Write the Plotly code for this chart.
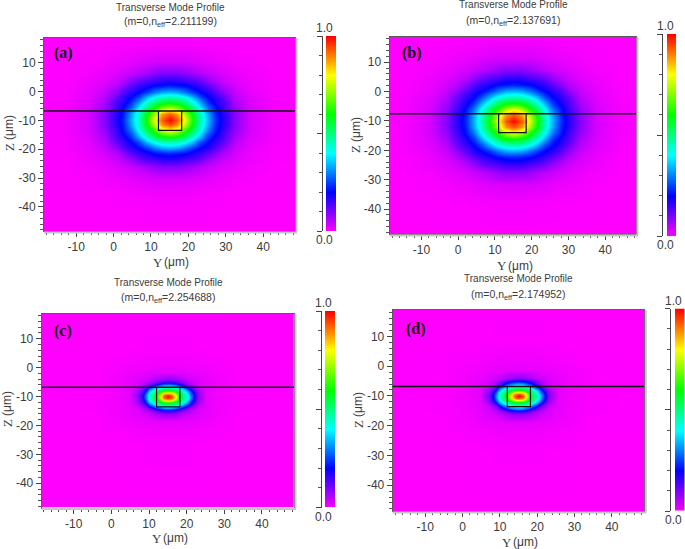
import numpy as np
import plotly.graph_objects as go

W, H = 685, 549

TITLE = "Transverse Mode Profile"
NEFF = ["2.211199", "2.137691", "2.254688", "2.174952"]
LABELS = ["(a)", "(b)", "(c)", "(d)"]
X_TICKS = [-10, 0, 10, 20, 30, 40]
Z_TICKS = [-40, -30, -20, -10, 0, 10]

# Intensity, as a quadrant around the mode centre (percent).
WIDE_MODE = [
    [100, 93, 78, 60, 46, 34, 23, 17, 9, 3, 0.7, 0],
    [93, 88, 73, 58, 45, 33, 22, 17, 9, 3, 0.7, 0],
    [78, 73, 62, 52, 41, 29, 21, 15, 8, 3, 0.7, 0],
    [60, 58, 52, 43, 34, 24, 18, 14, 6.5, 2.6, 0.6, 0],
    [46, 45, 41, 34, 26, 20, 16, 12, 5.3, 2.3, 0.5, 0],
    [34, 33, 29, 24, 20, 17, 13, 8.5, 4.2, 1.8, 0.4, 0],
    [23, 22, 21, 18, 16, 13, 9, 6, 3.2, 1.4, 0.3, 0],
    [17, 17, 15, 14, 12, 8.5, 6, 4, 2.5, 1.2, 0.3, 0],
    [9, 9, 8, 6.5, 5.3, 4.2, 3.2, 2.5, 1.5, 0.7, 0.2, 0],
    [3, 3, 3, 2.6, 2.3, 1.8, 1.4, 1.2, 0.7, 0.4, 0.1, 0],
    [0.7, 0.7, 0.7, 0.6, 0.5, 0.4, 0.3, 0.3, 0.2, 0.1, 0, 0],
    [0, 0, 0, 0, 0, 0, 0, 0, 0, 0, 0, 0],
]
TIGHT_MODE = [
    [100, 94, 80, 62, 51, 43, 30, 17, 9, 2, 1, 0.3, 0],
    [94, 90, 77, 60, 50, 42, 29, 16, 9, 2, 1, 0.3, 0],
    [80, 77, 66, 55, 47, 38, 26, 15, 8, 2, 1, 0.3, 0],
    [62, 60, 55, 49, 43, 33, 21, 12, 7, 2, 1, 0.3, 0],
    [51, 50, 47, 43, 34, 26, 15, 9, 5.5, 2, 1, 0.3, 0],
    [43, 42, 38, 33, 26, 16, 10, 7, 4, 2, 1, 0.3, 0],
    [30, 29, 26, 21, 15, 10, 7, 5, 3, 1.8, 1, 0.3, 0],
    [17, 16, 15, 12, 9, 7, 5, 3.5, 2.8, 1.6, 0.9, 0.2, 0],
    [9, 9, 8, 7, 5.5, 4.5, 3.5, 3, 2.5, 1.8, 0.9, 0.2, 0],
    [2, 2, 2, 2, 2, 1.8, 1.7, 1.5, 1.5, 1.2, 0.7, 0.2, 0],
    [1, 1, 1, 1, 1, 0.9, 0.9, 0.8, 0.8, 0.6, 0.4, 0.1, 0],
    [0.3, 0.3, 0.3, 0.3, 0.3, 0.3, 0.3, 0.2, 0.2, 0.2, 0.1, 0, 0],
    [0, 0, 0, 0, 0, 0, 0, 0, 0, 0, 0, 0, 0],
]
# Distances from the centre (um) of the quadrant's columns (Y) and rows (Z)
A_DY = [0, 2, 4.1, 6.2, 8.2, 10.3, 12.4, 14.4, 17.5, 21.6, 27.8, 40]
A_DZ = [0, 1.9, 3.9, 5.8, 7.8, 9.7, 11.6, 13.6, 16.5, 20.4, 26.2, 40]
B_DY = [0, 2.1, 4.3, 6.5, 8.6, 10.8, 13, 15.1, 18.4, 22.7, 29, 40]
B_DZ = [0, 2, 4, 6, 8.1, 10.1, 12.2, 14.2, 17.3, 21.4, 27.5, 40]
C_DY = [0, 1, 2, 3, 4, 5, 6, 7, 8, 10, 13, 18, 40]
C_DZ = [0, 0.65, 1.3, 2, 2.7, 3.4, 4.1, 5, 6, 8.4, 11, 16, 40]
D_DY = [0, 1, 2, 3.1, 4.1, 5.2, 6.2, 7.2, 8.2, 10.5, 14, 20, 40]
D_DZ = [0, 0.7, 1.4, 2.1, 2.8, 3.5, 4.3, 5.2, 6.2, 8.6, 12, 18, 40]
CENTER_Y = [15, 15, 15, 15]
CENTER_Z = [-9.8, -10, -10, -10]

# Interface line and waveguide outline
LINE_Y = [[-20, 49], [-21, 49], [-20, 49], [-19.5, 49.3]]
LINE_Z = [-6.7, -7.5, -6.8, -6.8]
RECT_Y = [[12, 18.2], [11, 18.5], [12, 18.2], [12, 18.2]]
RECT_BOTTOM = [-13.5, -14, -13.6, -13.6]

CBAR_LEVELS = [0, 0.2, 0.4, 0.6, 0.8, 1]
COLORS = ["#ff00ff", "#0000ff", "#00ffff", "#00ff00", "#ffff00", "#ff0000"]

# layout, px: plot box, ranges, colour bar, colour-bar axis, text anchors
PANELS = [
    dict(box=(44, 295, 38, 231), xr=(-18.6, 48.5), yr=(-48.4, 18.6), bar=(326, 336, 36, 231), barax=321.5,
         title=(170, 7, 22), xt=(169, 262), zt=(9, 133), lab=(64, 53), num=324),
    dict(box=(389.5, 636, 37, 234), xr=(-18.7, 48.4), yr=(-48.5, 18.6), bar=(667, 676, 34, 236), barax=661.7,
         title=(513, 5, 21), xt=(513, 266), zt=(356, 135), lab=(412, 53), num=665),
    dict(box=(41.7, 294, 313.5, 507.5), xr=(-18.5, 48.5), yr=(-48.4, 18.7), bar=(325, 335, 311, 507.5), barax=320.7,
         title=(168, 282, 298), xt=(168, 538), zt=(7, 409), lab=(63, 331), num=323),
    dict(box=(392.7, 644.3, 310, 511), xr=(-18.7, 48.7), yr=(-48.7, 18.9), bar=(675, 684.5, 308.5, 511), barax=670,
         title=(518, 278, 295), xt=(518, 542), zt=(358, 410), lab=(416, 329), num=673),
]
FIELDS = [(WIDE_MODE, A_DY, A_DZ), (WIDE_MODE, B_DY, B_DZ), (TIGHT_MODE, C_DY, C_DZ), (TIGHT_MODE, D_DY, D_DZ)]

TXT = "#3c3c3c"
SANS = "Liberation Sans, Arial, sans-serif"
SERIF = "Liberation Serif, Times New Roman, serif"


def px(x):
    return x / W


def py(y):
    return 1 - y / H


def mirrored(q, dy, dz, cy, cz):
    q = np.asarray(q, float) / 100
    right = np.hstack([q[:, :0:-1], q])
    full = np.vstack([right[:0:-1], right])
    ys = np.r_[cy - np.array(dy[:0:-1]), cy + np.array(dy)]
    zs = np.r_[cz - np.array(dz[:0:-1]), cz + np.array(dz)]
    return ys, zs, full


def note(x, y, text, font=None, **kw):
    font = font or dict(family=SANS, size=12, color=TXT)
    notes.append(dict(x=px(x), y=py(y), xref="paper", yref="paper", text=text, showarrow=False,
                      xanchor="center", yanchor="middle", font=font, **kw))


fig = go.Figure()
scale = [[l, c] for l, c in zip(CBAR_LEVELS, COLORS)]
notes, shapes = [], []
tickfont = dict(family=SANS, size=12, color=TXT)
serif_axis = dict(family=SERIF, size=13, color=TXT)

for i, p in enumerate(PANELS):
    n = 2 * i + 1
    ax, ay = f"x{n}", f"y{n}"
    bx, by = f"x{n+1}", f"y{n+1}"
    l, r, t, b = p["box"]
    q, dy, dz = FIELDS[i]
    ys, zs, full = mirrored(q, dy, dz, CENTER_Y[i], CENTER_Z[i])
    fig.add_trace(go.Heatmap(x=ys, y=zs, z=full, colorscale=scale, zmin=0, zmax=1, zsmooth="best",
                             showscale=False, xaxis=ax, yaxis=ay, hoverinfo="skip"))
    fig.add_trace(go.Scatter(x=LINE_Y[i], y=[LINE_Z[i]] * 2, mode="lines", xaxis=ax, yaxis=ay,
                             line=dict(color="#111", width=1.5), cliponaxis=False, showlegend=False, hoverinfo="skip"))
    x0, x1 = RECT_Y[i]
    fig.add_trace(go.Scatter(x=[x0, x0, x1, x1], y=[LINE_Z[i], RECT_BOTTOM[i], RECT_BOTTOM[i], LINE_Z[i]],
                             mode="lines", xaxis=ax, yaxis=ay, line=dict(color="#111", width=1.2),
                             showlegend=False, hoverinfo="skip"))
    axcommon = dict(showgrid=False, zeroline=False, mirror=True, showline=True, linecolor="#5a5a5a", linewidth=1,
                    ticks="outside", ticklen=5, tickcolor="#444", tickwidth=1, tickfont=tickfont,
                    minor=dict(dtick=2, ticks="outside", ticklen=3, tickcolor="#555", tickwidth=1, showgrid=False))
    fig.update_layout({
        f"xaxis{n}": dict(domain=[px(l), px(r)], range=list(p["xr"]), anchor=ay, tickmode="array",
                          tickvals=X_TICKS, ticktext=[str(v) for v in X_TICKS], **axcommon),
        f"yaxis{n}": dict(domain=[py(b), py(t)], range=list(p["yr"]), anchor=ax, tickmode="array",
                          tickvals=Z_TICKS, ticktext=[str(v) for v in Z_TICKS], **axcommon),
    })
    # colour bar
    bl, br, bt, bb = p["bar"]
    fig.add_trace(go.Heatmap(x=[0, 1], y=CBAR_LEVELS, z=[[v, v] for v in CBAR_LEVELS], colorscale=scale,
                             zmin=0, zmax=1, zsmooth="best", showscale=False, xaxis=bx, yaxis=by, hoverinfo="skip"))
    fig.update_layout({
        f"xaxis{n+1}": dict(domain=[px(bl), px(br)], range=[0, 1], anchor=by, visible=False),
        f"yaxis{n+1}": dict(domain=[py(bb), py(bt)], range=[0, 1], anchor="free", position=px(p["barax"]),
                            showgrid=False, zeroline=False,
                            showline=True, linecolor="#444", linewidth=1, ticks="outside", ticklen=5,
                            tickcolor="#444", dtick=0.5, showticklabels=False,
                            minor=dict(dtick=0.1, ticks="outside", ticklen=3, tickcolor="#555", showgrid=False)),
    })
    # light frame shadow, right and bottom
    shapes.append(dict(type="line", xref="paper", yref="paper", x0=px(r + 1.5), x1=px(r + 1.5), y0=py(b + 1), y1=py(t),
                       line=dict(color="#c4c4c4", width=2)))
    shapes.append(dict(type="line", xref="paper", yref="paper", x0=px(l), x1=px(r + 2), y0=py(b + 1.5), y1=py(b + 1.5),
                       line=dict(color="#c4c4c4", width=2)))

    tx, ty1, ty2 = p["title"]
    note(tx, ty1, TITLE, font=dict(family=SANS, size=10, color=TXT))
    note(tx, ty2, f"(m=0,n<sub>eff</sub>={NEFF[i]})", font=dict(family=SANS, size=10.5, color=TXT))
    xtx, xty = p["xt"]
    note(xtx - 11, xty, "Y", font=serif_axis)
    note(xtx + 7, xty, "(μm)")
    ztx, zty = p["zt"]
    note(ztx, zty + 14, "Z", font=serif_axis, textangle=-90)
    note(ztx, zty - 5, "(μm)", textangle=-90)
    note(*p["lab"], f"<b>{LABELS[i]}</b>", font=dict(family=SERIF, size=16, color="#111"))
    note(p["num"], bt - 8, "1.0")
    note(p["num"], bb + 9, "0.0")

fig.update_layout(width=W, height=H, margin=dict(l=0, r=0, t=0, b=0), paper_bgcolor="white", plot_bgcolor="white",
                  annotations=notes, shapes=shapes, showlegend=False)
fig.write_html("out.html", config=dict(displayModeBar=False),
               post_script="document.body.style.margin='0';document.body.style.overflow='hidden';")
